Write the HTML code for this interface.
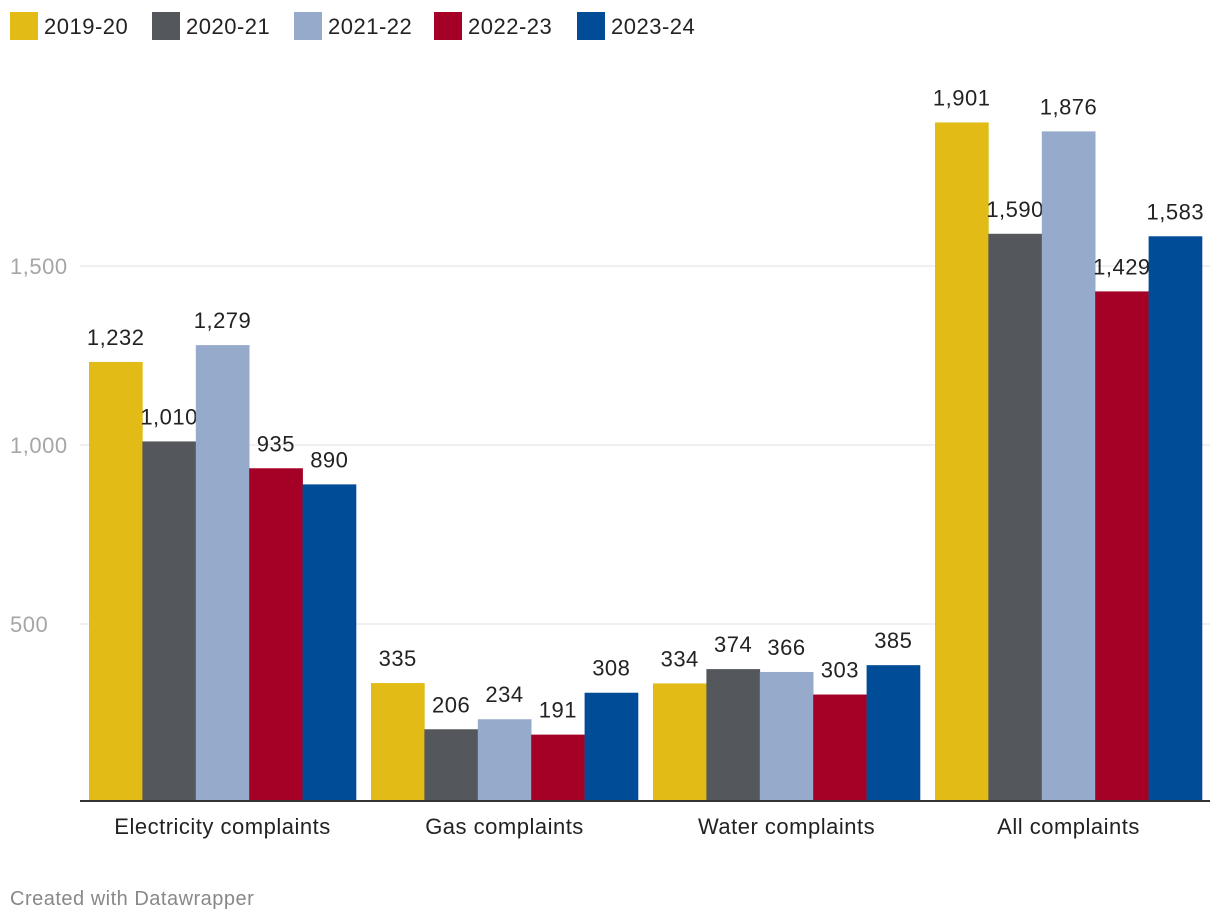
<!DOCTYPE html>
<html><head><meta charset="utf-8"><style>
body{margin:0;background:#fff;font-family:"Liberation Sans",Arial,sans-serif;}
#wrap{position:relative;width:1220px;height:924px;overflow:hidden;}
text{letter-spacing:0.5px;}
</style></head><body>
<div id="wrap">
<svg id="chart" width="1220" height="924"></svg>
</div>
<script>
const categories=["Electricity complaints","Gas complaints","Water complaints","All complaints"];
const seriesNames=["2019-20","2020-21","2021-22","2022-23","2023-24"];
const colors=["#e2bb17","#54575c","#96aacc","#a50026","#004c97"];
const v2019=[1232,335,334,1901];
const v2020=[1010,206,374,1590];
const v2021=[1279,234,366,1876];
const v2022=[935,191,303,1429];
const v2023=[890,308,385,1583];
const yTicks=[500,1000,1500];
const series=[v2019,v2020,v2021,v2022,v2023];
const NS="http://www.w3.org/2000/svg";
const svg=document.getElementById('chart');
const y0=803, pxPer=179/500;
const y=v=>y0-v*pxPer;
const groupX=i=>89+i*282, groupW=267, barW=groupW/5;
function mk(tag,attrs,txt){const e=document.createElementNS(NS,tag);for(const k in attrs)e.setAttribute(k,attrs[k]);if(txt!==undefined)e.textContent=txt;svg.appendChild(e);return e;}
const fmt=v=>v.toLocaleString('en-US');
yTicks.forEach(t=>{
  const l=mk('line',{x1:80,x2:1210,y1:y(t),y2:y(t),stroke:'#e0e0e0','stroke-width':1});
  
  
  const tx=mk('text',{x:10,y:y(t)+8,'font-size':22,fill:'#a6a6a6'},fmt(t));
  
  
});
series.forEach((s,si)=>{
  s.forEach((v,ci)=>{
    const x=groupX(ci)+si*barW;
    const r=mk('rect',{x:x,y:y(v),width:barW+0.3,height:y0-y(v)-2,fill:colors[si]});
    
    
    const t=mk('text',{x:x+barW/2,y:y(v)-17,'font-size':22,fill:'#222','text-anchor':'middle'},fmt(v));
    
    
  });
});
const ax=mk('line',{x1:80,x2:1210,y1:801,y2:801,stroke:'#333','stroke-width':2});


categories.forEach((c,ci)=>{
  const t=mk('text',{x:groupX(ci)+groupW/2,y:834,'font-size':22,fill:'#222','text-anchor':'middle'},c);
  
  
});
const legX=[10,152,294,434,577];
seriesNames.forEach((n,i)=>{
  const r=mk('rect',{x:legX[i],y:12,width:28,height:28,fill:colors[i]});
  
  
  const t=mk('text',{x:legX[i]+34,y:34,'font-size':22,fill:'#222'},n);
  
  
});
const f=mk('text',{x:10,y:905,'font-size':20,fill:'#888'},'Created with Datawrapper');


</script>
</body></html>
